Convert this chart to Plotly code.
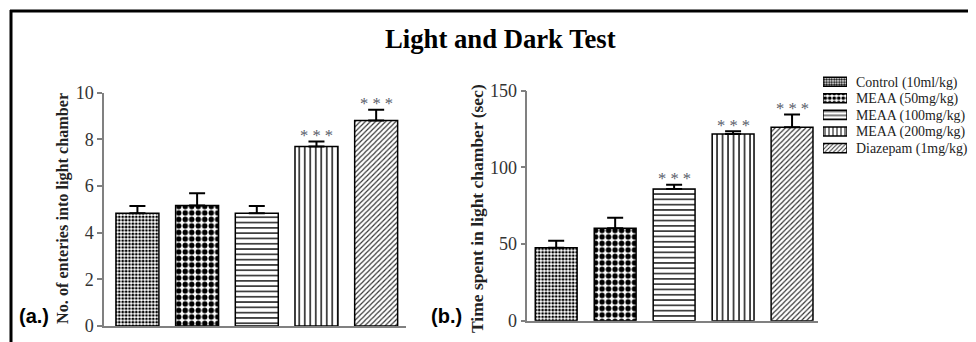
import plotly.graph_objects as go

# ---- data ----
groups = ["Control (10ml/kg)", "MEAA (50mg/kg)", "MEAA (100mg/kg)",
          "MEAA (200mg/kg)", "Diazepam (1mg/kg)"]
entries_mean = [4.83, 5.16, 4.83, 7.69, 8.81]
entries_sem = [0.31, 0.53, 0.31, 0.22, 0.46]
time_mean = [47.6, 60.3, 85.9, 121.8, 126.1]
time_sem = [4.6, 6.9, 2.8, 1.7, 8.3]
stars_a = ["", "", "", "* * *", "* * *"]
stars_b = ["", "", "* * *", "* * *", "* * *"]
yticks_a = [0, 2, 4, 6, 8, 10]
yticks_b = [0, 50, 100, 150]

# ---- styles ----
shapes = [".", ".", "-", "|", "/"]
psizes = [3.4, 6.5, 5.3, 5.5, 3.6]
psolid = [0.5, 0.55, 0.25, 0.25, 0.33]
pfg = ["black", "black", "black", "black", "#333333"]

# page has an 8px body margin; figure sized so page fits the window
OFF = 8
W, H = 976 - OFF, 342 - OFF


def px_x(v):
    return (v - OFF) / W


def px_y(v):
    return 1 - (v - OFF) / H


SERIF = "Liberation Serif"

fig = go.Figure()

for i, g in enumerate(groups):
    pattern = dict(shape=shapes[i], size=psizes[i], solidity=psolid[i],
                   fgcolor=pfg[i], bgcolor="white", fillmode="replace")
    fig.add_trace(go.Bar(
        x=[i], y=[entries_mean[i]], name=g, showlegend=False,
        marker=dict(color="white", pattern=pattern,
                    line=dict(color="black", width=1.5)),
        error_y=dict(type="data", symmetric=False, array=[entries_sem[i]],
                     arrayminus=[0], color="black", thickness=2, width=8),
        width=0.72, xaxis="x", yaxis="y"))
    fig.add_trace(go.Bar(
        x=[i], y=[time_mean[i]], name=g, showlegend=False,
        marker=dict(color="white", pattern=pattern,
                    line=dict(color="black", width=1.5)),
        error_y=dict(type="data", symmetric=False, array=[time_sem[i]],
                     arrayminus=[0], color="black", thickness=2, width=8),
        width=0.71, xaxis="x2", yaxis="y2"))

# legend built as small horizontal swatch bars with labels on the right
fig.add_trace(go.Bar(
    x=[1] * len(groups), y=list(range(len(groups))), orientation="h",
    marker=dict(color="white",
                pattern=dict(shape=shapes, size=[2.5, 4.5, 4.0, 4.0, 3.0],
                             solidity=psolid, fgcolor=pfg, bgcolor="white",
                             fillmode="replace"),
                line=dict(color="black", width=1.5)),
    width=0.55, showlegend=False, hoverinfo="skip", xaxis="x3", yaxis="y3"))

annotations = []
star_font = dict(family=SERIF, size=16.5, color="#585c6a")
for i in range(len(groups)):
    if stars_a[i]:
        annotations.append(dict(x=i, y=entries_mean[i] + entries_sem[i],
                                xref="x", yref="y", text=stars_a[i],
                                showarrow=False, yanchor="middle", yshift=6,
                                font=star_font))
    if stars_b[i]:
        annotations.append(dict(x=i, y=time_mean[i] + time_sem[i],
                                xref="x2", yref="y2", text=stars_b[i],
                                showarrow=False, yanchor="middle", yshift=6,
                                font=star_font))

annotations += [
    dict(x=px_x(500), y=px_y(39), xref="paper", yref="paper",
         text="<b>Light and Dark Test</b>", showarrow=False,
         xanchor="center", yanchor="middle",
         font=dict(family=SERIF, size=26.7, color="black")),
    dict(x=px_x(63), y=px_y(209), xref="paper", yref="paper",
         text="<b>No. of enteries into light chamber</b>", textangle=-90,
         showarrow=False, xanchor="center", yanchor="middle",
         font=dict(family=SERIF, size=16.2, color="#222")),
    dict(x=px_x(477), y=px_y(209), xref="paper", yref="paper",
         text="<b>Time spent in light chamber (sec)</b>", textangle=-90,
         showarrow=False, xanchor="center", yanchor="middle",
         font=dict(family=SERIF, size=17.5, color="#222")),
    dict(x=px_x(34), y=px_y(316), xref="paper", yref="paper", text="<b>(a.)</b>",
         showarrow=False, xanchor="center", yanchor="middle",
         font=dict(family="Liberation Sans", size=20, color="black")),
    dict(x=px_x(446), y=px_y(316), xref="paper", yref="paper", text="<b>(b.)</b>",
         showarrow=False, xanchor="center", yanchor="middle",
         font=dict(family="Liberation Sans", size=20, color="black")),
]

axis_common = dict(showgrid=False, zeroline=False, showline=True, linecolor="#808080",
                   linewidth=1.5, automargin=False)
tick_font = dict(family=SERIF, size=18, color="#333")

fig.update_layout(
    template="none",
    width=W, height=H, margin=dict(l=0, r=0, t=0, b=0, pad=0, autoexpand=False),
    paper_bgcolor="white", plot_bgcolor="rgba(0,0,0,0)",
    barmode="overlay", showlegend=False,
    xaxis=dict(domain=[px_x(104), px_x(406)], range=[-0.56, 4.5], showticklabels=False,
               ticks="", anchor="y", **axis_common),
    yaxis=dict(domain=[px_y(326), px_y(92.7)], range=[0, 10], tickvals=yticks_a,
               ticks="outside", ticklen=5, tickcolor="#808080", tickwidth=1.5,
               tickfont=tick_font, anchor="x", **axis_common),
    xaxis2=dict(domain=[px_x(527.3), px_x(818)], range=[-0.49, 4.44], showticklabels=False,
                ticks="", anchor="y2", **axis_common),
    yaxis2=dict(domain=[px_y(320.7), px_y(90.7)], range=[0, 150], tickvals=yticks_b,
                ticks="outside", ticklen=5, tickcolor="#808080", tickwidth=1.5,
                tickfont=tick_font, anchor="x2", **axis_common),
    xaxis3=dict(domain=[px_x(823), px_x(847)], range=[0, 1], visible=False,
                anchor="y3", automargin=False),
    yaxis3=dict(domain=[px_y(156.4), px_y(73.4)], range=[4.5, -0.5],
                tickvals=list(range(len(groups))), ticktext=groups, side="right",
                ticks="", showline=False, showgrid=False, zeroline=False,
                ticklabelstandoff=8, automargin=False,
                tickfont=dict(family=SERIF, size=13.9, color="#222"), anchor="x3"),
    annotations=annotations,
    shapes=[
        dict(type="line", xref="paper", yref="paper", x0=px_x(10), x1=1.0,
             y0=px_y(11), y1=px_y(11), line=dict(color="black", width=3)),
        dict(type="line", xref="paper", yref="paper", x0=px_x(11), x1=px_x(11),
             y0=px_y(10), y1=0, line=dict(color="black", width=3)),
    ],
)

fig.write_html("out.html")
